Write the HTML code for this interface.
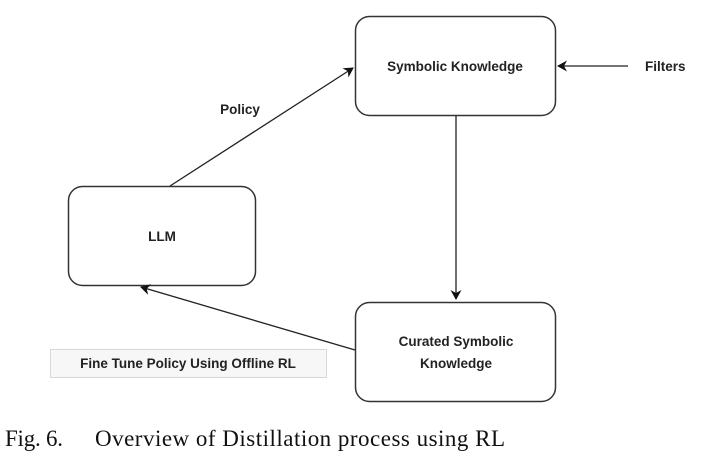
<!DOCTYPE html>
<html><head><meta charset="utf-8"><style>
body{margin:0;background:#fff;width:705px;height:469px;overflow:hidden}
svg text{font-family:"Liberation Sans",sans-serif;font-weight:bold;font-size:13.5px;fill:#222}
.cap{font-family:"Liberation Serif",serif;font-weight:normal;font-size:23px;fill:#111}
</style></head><body>
<svg width="705" height="469" viewBox="0 0 705 469">
<defs><marker id="a" markerWidth="12" markerHeight="12" refX="9" refY="5.5" orient="auto" markerUnits="userSpaceOnUse"><path d="M0,0 L10,5.5 L0,11 L3,5.5 Z" fill="#111"/></marker></defs>
<g fill="#fff" stroke="#333" stroke-width="1.5">
<rect x="355.5" y="16.5" width="200" height="99" rx="14"/>
<rect x="68.5" y="186.5" width="187" height="99" rx="14"/>
<rect x="355.5" y="302.5" width="200" height="99" rx="14"/>
</g>
<g stroke="#222" stroke-width="1.3" fill="none">
<line x1="170" y1="186" x2="353" y2="68" marker-end="url(#a)"/>
<line x1="456" y1="116" x2="456" y2="299" marker-end="url(#a)"/>
<line x1="628" y1="66" x2="558" y2="66" marker-end="url(#a)"/>
<line x1="355" y1="350" x2="141" y2="287" marker-end="url(#a)"/>
</g>
<text x="455" y="71" text-anchor="middle">Symbolic Knowledge</text>
<text x="645" y="71">Filters</text>
<text x="240" y="114" text-anchor="middle">Policy</text>
<text x="162" y="241" text-anchor="middle">LLM</text>
<text x="456" y="346" text-anchor="middle">Curated Symbolic</text>
<text x="456" y="368" text-anchor="middle">Knowledge</text>
<rect x="50.5" y="349.5" width="276" height="28" fill="#f7f7f7" stroke="#d8d8d8"/>
<text x="188" y="368" text-anchor="middle">Fine Tune Policy Using Offline RL</text>
<text class="cap" x="5" y="446" textLength="58">Fig. 6.</text>
<text class="cap" x="95" y="446" textLength="410">Overview of Distillation process using RL</text>
</svg>
</body></html>
